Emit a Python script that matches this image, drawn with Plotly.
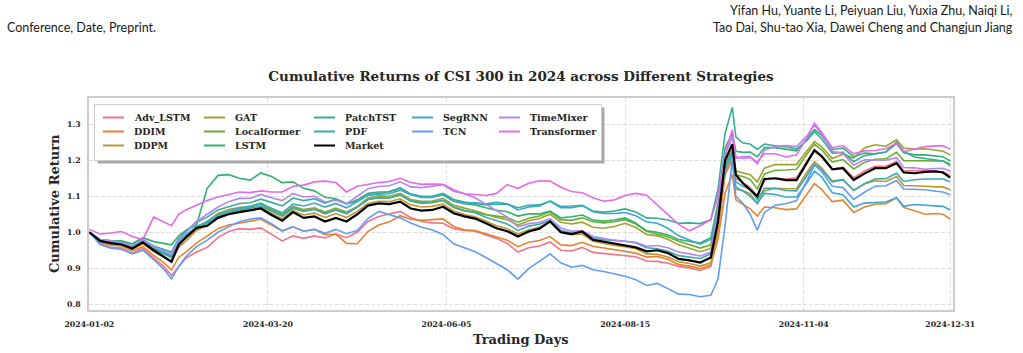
import plotly.graph_objects as go

# ---------------- data ----------------
trading_day_index = [0, 3, 6, 9, 12, 15, 18, 21, 23, 25, 27,
                     30, 33, 36, 39, 42, 45, 48, 51, 54, 57,
                     60, 63, 66, 69, 72, 75, 78, 81, 84, 87,
                     90, 93, 96, 99, 102, 105, 108, 111, 114, 117,
                     120, 123, 126, 129, 132, 135, 138, 141, 144, 147,
                     150, 153, 156, 159, 162, 165, 168, 171, 174,
                     176, 178, 180, 181, 183, 185, 187, 189,
                     192, 195, 198, 201, 203, 205, 208, 211, 214, 217,
                     220, 223, 226, 228, 231, 234, 237, 239, 241]

tick_positions = [0, 50, 100, 150, 200, 241]
tick_labels = ["2024-01-02", "2024-03-20", "2024-06-05", "2024-08-15", "2024-11-04", "2024-12-31"]
y_ticks = [0.8, 0.9, 1.0, 1.1, 1.2, 1.3]

adv_lstm = [1.000, 0.968, 0.958, 0.956, 0.942, 0.955, 0.929, 0.903, 0.880, 0.905, 0.928,
            0.945, 0.958, 0.985, 1.002, 1.010, 1.008, 1.012, 0.993, 0.976, 0.990,
            0.983, 0.990, 0.984, 0.995, 0.985, 1.000, 1.030, 1.044, 1.050, 1.058,
            1.041, 1.030, 1.026, 1.025, 1.010, 1.005, 1.003, 0.993, 0.983, 0.969,
            0.945, 0.957, 0.962, 0.973, 0.950, 0.948, 0.958, 0.944, 0.941, 0.937,
            0.935, 0.932, 0.920, 0.919, 0.914, 0.905, 0.901, 0.894, 0.905,
            1.000, 1.160, 1.200, 1.150, 1.138, 1.125, 1.100, 1.146,
            1.150, 1.148, 1.151, 1.198, 1.225, 1.209, 1.175, 1.181, 1.151, 1.170,
            1.183, 1.184, 1.196, 1.170, 1.171, 1.172, 1.169, 1.168, 1.158]

ddim = [1.000, 0.972, 0.964, 0.962, 0.948, 0.960, 0.936, 0.914, 0.895, 0.930, 0.945,
        0.970, 0.990, 1.010, 1.020, 1.025, 1.032, 1.036, 1.020, 1.003, 1.015,
        1.003, 1.008, 0.993, 0.995, 0.969, 0.968, 1.002, 1.020, 1.029, 1.046,
        1.036, 1.033, 1.034, 1.037, 1.016, 1.007, 1.005, 0.997, 0.987, 0.978,
        0.960, 0.972, 0.977, 0.988, 0.965, 0.963, 0.972, 0.961, 0.956, 0.951,
        0.945, 0.942, 0.931, 0.933, 0.925, 0.910, 0.906, 0.899, 0.910,
        0.980, 1.110, 1.160, 1.090, 1.078, 1.065, 1.045, 1.070,
        1.068, 1.063, 1.065, 1.108, 1.135, 1.119, 1.085, 1.089, 1.055, 1.070,
        1.078, 1.079, 1.096, 1.069, 1.059, 1.050, 1.052, 1.050, 1.037]

ddpm = [1.000, 0.974, 0.967, 0.964, 0.952, 0.968, 0.946, 0.930, 0.920, 0.958, 0.975,
        1.005, 1.019, 1.040, 1.052, 1.060, 1.062, 1.069, 1.052, 1.037, 1.060,
        1.048, 1.053, 1.041, 1.052, 1.041, 1.058, 1.080, 1.086, 1.085, 1.093,
        1.076, 1.070, 1.072, 1.078, 1.059, 1.049, 1.043, 1.031, 1.018, 1.010,
        0.995, 1.007, 1.014, 1.029, 1.000, 0.993, 0.995, 0.975, 0.968, 0.963,
        0.960, 0.954, 0.940, 0.939, 0.931, 0.918, 0.913, 0.906, 0.915,
        1.010, 1.165, 1.205, 1.120, 1.115, 1.107, 1.080, 1.115,
        1.122, 1.121, 1.121, 1.168, 1.196, 1.179, 1.142, 1.146, 1.116, 1.134,
        1.143, 1.141, 1.155, 1.130, 1.130, 1.128, 1.126, 1.126, 1.118]

gat = [1.000, 0.976, 0.971, 0.968, 0.956, 0.974, 0.953, 0.939, 0.930, 0.969, 0.988,
       1.015, 1.030, 1.052, 1.063, 1.069, 1.072, 1.081, 1.064, 1.050, 1.072,
       1.063, 1.068, 1.056, 1.067, 1.056, 1.072, 1.095, 1.101, 1.100, 1.108,
       1.091, 1.086, 1.087, 1.094, 1.075, 1.067, 1.060, 1.050, 1.041, 1.035,
       1.020, 1.032, 1.038, 1.050, 1.028, 1.023, 1.028, 1.014, 1.011, 1.016,
       1.025, 1.013, 0.994, 0.990, 0.980, 0.965, 0.956, 0.946, 0.955,
       1.060, 1.195, 1.230, 1.170, 1.165, 1.160, 1.140, 1.178,
       1.188, 1.188, 1.188, 1.227, 1.252, 1.238, 1.205, 1.217, 1.206, 1.234,
       1.243, 1.239, 1.257, 1.234, 1.231, 1.232, 1.227, 1.225, 1.215]

localformer = [1.000, 0.977, 0.973, 0.967, 0.958, 0.972, 0.955, 0.941, 0.932, 0.971, 0.990,
               1.016, 1.028, 1.049, 1.058, 1.066, 1.070, 1.078, 1.062, 1.047, 1.070,
               1.060, 1.064, 1.051, 1.062, 1.052, 1.070, 1.091, 1.096, 1.095, 1.103,
               1.086, 1.080, 1.082, 1.088, 1.069, 1.059, 1.056, 1.049, 1.045, 1.041,
               1.028, 1.039, 1.045, 1.057, 1.035, 1.033, 1.040, 1.029, 1.026, 1.029,
               1.035, 1.023, 1.003, 0.996, 0.987, 0.975, 0.966, 0.956, 0.965,
               1.060, 1.185, 1.220, 1.160, 1.155, 1.147, 1.120, 1.162,
               1.172, 1.173, 1.175, 1.218, 1.245, 1.229, 1.195, 1.202, 1.176, 1.194,
               1.203, 1.204, 1.222, 1.199, 1.199, 1.200, 1.199, 1.198, 1.190]

lstm = [1.000, 0.980, 0.977, 0.976, 0.968, 0.985, 0.974, 0.968, 0.965, 0.990, 1.005,
        1.020, 1.122, 1.158, 1.160, 1.150, 1.145, 1.165, 1.155, 1.138, 1.140,
        1.122, 1.115, 1.097, 1.093, 1.080, 1.085, 1.103, 1.108, 1.113, 1.123,
        1.106, 1.099, 1.099, 1.104, 1.086, 1.079, 1.076, 1.068, 1.061, 1.057,
        1.045, 1.051, 1.051, 1.059, 1.040, 1.043, 1.048, 1.034, 1.031, 1.034,
        1.040, 1.025, 1.004, 1.000, 0.992, 0.980, 0.976, 0.970, 0.985,
        1.080, 1.235, 1.275, 1.225, 1.222, 1.223, 1.210, 1.235,
        1.235, 1.231, 1.226, 1.261, 1.285, 1.269, 1.230, 1.234, 1.210, 1.220,
        1.218, 1.223, 1.246, 1.221, 1.215, 1.215, 1.213, 1.210, 1.198]

patchtst = [1.000, 0.979, 0.975, 0.973, 0.962, 0.980, 0.962, 0.952, 0.945, 0.983, 1.003,
            1.028, 1.042, 1.062, 1.072, 1.080, 1.082, 1.092, 1.083, 1.073, 1.095,
            1.088, 1.093, 1.081, 1.092, 1.078, 1.090, 1.108, 1.112, 1.112, 1.122,
            1.106, 1.099, 1.100, 1.108, 1.091, 1.084, 1.081, 1.076, 1.078, 1.078,
            1.068, 1.075, 1.076, 1.086, 1.068, 1.068, 1.074, 1.059, 1.056, 1.059,
            1.065, 1.056, 1.040, 1.039, 1.034, 1.025, 1.026, 1.024, 1.035,
            1.120, 1.275, 1.347, 1.265, 1.248, 1.245, 1.230, 1.245,
            1.240, 1.238, 1.231, 1.256, 1.280, 1.260, 1.220, 1.222, 1.196, 1.213,
            1.218, 1.223, 1.251, 1.225, 1.209, 1.205, 1.201, 1.198, 1.185]

pdf = [1.000, 0.974, 0.969, 0.968, 0.955, 0.973, 0.953, 0.939, 0.930, 0.968, 0.988,
       1.010, 1.025, 1.044, 1.054, 1.062, 1.067, 1.072, 1.059, 1.044, 1.066,
       1.058, 1.064, 1.053, 1.062, 1.052, 1.070, 1.091, 1.096, 1.095, 1.104,
       1.088, 1.083, 1.084, 1.089, 1.070, 1.061, 1.054, 1.042, 1.032, 1.023,
       1.005, 1.017, 1.022, 1.033, 1.005, 0.998, 1.000, 0.984, 0.979, 0.977,
       0.975, 0.970, 0.957, 0.954, 0.947, 0.935, 0.932, 0.927, 0.940,
       1.040, 1.185, 1.225, 1.140, 1.128, 1.120, 1.090, 1.122,
       1.122, 1.116, 1.115, 1.159, 1.190, 1.174, 1.140, 1.146, 1.116, 1.135,
       1.148, 1.149, 1.164, 1.141, 1.146, 1.148, 1.147, 1.148, 1.140]

segrnn = [1.000, 0.976, 0.971, 0.970, 0.958, 0.977, 0.958, 0.944, 0.935, 0.973, 0.993,
          1.015, 1.030, 1.048, 1.058, 1.067, 1.072, 1.080, 1.067, 1.054, 1.078,
          1.073, 1.081, 1.070, 1.080, 1.068, 1.085, 1.103, 1.106, 1.107, 1.117,
          1.104, 1.097, 1.097, 1.104, 1.087, 1.081, 1.082, 1.079, 1.083, 1.079,
          1.062, 1.070, 1.073, 1.087, 1.072, 1.073, 1.075, 1.057, 1.052, 1.052,
          1.055, 1.046, 1.029, 1.025, 1.011, 0.990, 0.978, 0.967, 0.980,
          1.050, 1.175, 1.215, 1.125, 1.115, 1.100, 1.080, 1.108,
          1.105, 1.098, 1.098, 1.139, 1.170, 1.154, 1.110, 1.104, 1.070, 1.081,
          1.083, 1.084, 1.096, 1.072, 1.077, 1.075, 1.073, 1.072, 1.062]

tcn = [1.000, 0.966, 0.956, 0.953, 0.940, 0.950, 0.924, 0.896, 0.870, 0.905, 0.932,
       0.960, 0.978, 1.000, 1.015, 1.029, 1.037, 1.040, 1.024, 1.004, 1.015,
       1.003, 1.008, 0.997, 1.008, 0.996, 1.005, 1.038, 1.058, 1.050, 1.040,
       1.026, 1.014, 1.006, 0.994, 0.968, 0.957, 0.946, 0.930, 0.912, 0.896,
       0.870, 0.899, 0.919, 0.940, 0.915, 0.903, 0.908, 0.896, 0.891, 0.885,
       0.878, 0.868, 0.852, 0.858, 0.844, 0.828, 0.827, 0.821, 0.825,
       0.870, 1.020, 1.200, 1.100, 1.080, 1.050, 1.006, 1.055,
       1.075, 1.079, 1.088, 1.145, 1.187, 1.169, 1.128, 1.124, 1.091, 1.111,
       1.128, 1.129, 1.144, 1.120, 1.120, 1.118, 1.114, 1.112, 1.104]

timemixer = [1.000, 0.980, 0.976, 0.973, 0.960, 0.978, 0.959, 0.948, 0.940, 0.978, 0.998,
             1.030, 1.050, 1.070, 1.085, 1.094, 1.094, 1.105, 1.096, 1.088, 1.108,
             1.098, 1.100, 1.084, 1.089, 1.079, 1.100, 1.121, 1.127, 1.129, 1.140,
             1.126, 1.124, 1.127, 1.132, 1.114, 1.107, 1.096, 1.079, 1.060, 1.042,
             1.015, 1.024, 1.027, 1.038, 1.012, 1.003, 1.004, 0.988, 0.982, 0.978,
             0.975, 0.972, 0.961, 0.963, 0.957, 0.945, 0.940, 0.934, 0.945,
             1.060, 1.215, 1.265, 1.205, 1.210, 1.210, 1.190, 1.228,
             1.238, 1.241, 1.238, 1.269, 1.298, 1.273, 1.225, 1.219, 1.186, 1.201,
             1.201, 1.200, 1.207, 1.180, 1.179, 1.175, 1.177, 1.178, 1.170]

transformer = [1.008, 0.995, 0.998, 1.002, 0.988, 0.980, 1.042, 1.028, 1.018, 1.050, 1.062,
               1.075, 1.088, 1.098, 1.105, 1.112, 1.110, 1.115, 1.112, 1.112, 1.128,
               1.131, 1.140, 1.142, 1.138, 1.112, 1.128, 1.134, 1.138, 1.141, 1.150,
               1.138, 1.133, 1.134, 1.133, 1.118, 1.107, 1.105, 1.102, 1.108, 1.132,
               1.122, 1.136, 1.143, 1.142, 1.125, 1.113, 1.110, 1.096, 1.086, 1.090,
               1.102, 1.108, 1.103, 1.076, 1.051, 1.022, 1.004, 1.018, 1.035,
               1.100, 1.215, 1.285, 1.210, 1.205, 1.208, 1.195, 1.218,
               1.218, 1.209, 1.215, 1.264, 1.303, 1.278, 1.235, 1.241, 1.218, 1.226,
               1.227, 1.232, 1.247, 1.224, 1.231, 1.238, 1.240, 1.240, 1.231]

market = [1.000, 0.976, 0.970, 0.966, 0.955, 0.972, 0.950, 0.932, 0.918, 0.965, 0.985,
          1.012, 1.018, 1.040, 1.050, 1.056, 1.060, 1.066, 1.048, 1.032, 1.056,
          1.040, 1.044, 1.030, 1.040, 1.030, 1.050, 1.074, 1.080, 1.078, 1.085,
          1.066, 1.060, 1.062, 1.071, 1.053, 1.044, 1.038, 1.025, 1.011, 1.003,
          0.988, 1.002, 1.010, 1.030, 1.000, 0.995, 1.002, 0.979, 0.974, 0.968,
          0.962, 0.958, 0.947, 0.950, 0.942, 0.926, 0.922, 0.916, 0.930,
          1.030, 1.200, 1.245, 1.160, 1.136, 1.118, 1.100, 1.148,
          1.150, 1.145, 1.145, 1.195, 1.228, 1.212, 1.175, 1.178, 1.145, 1.163,
          1.178, 1.178, 1.192, 1.166, 1.164, 1.168, 1.169, 1.166, 1.152]

model_names = ["Adv_LSTM", "DDIM", "DDPM", "GAT", "Localformer", "LSTM",
               "PatchTST", "PDF", "SegRNN", "TCN", "TimeMixer", "Transformer"]
model_series = [adv_lstm, ddim, ddpm, gat, localformer, lstm,
                patchtst, pdf, segrnn, tcn, timemixer, transformer]

# legend layout (matplotlib ncol=5, column-major)
legend_columns = [["Adv_LSTM", "DDIM", "DDPM"],
                  ["GAT", "Localformer", "LSTM"],
                  ["PatchTST", "PDF", "Market"],
                  ["SegRNN", "TCN"],
                  ["TimeMixer", "Transformer"]]

# ---------------- style ----------------
model_colors = ["#f77189", "#e3842f", "#c29532", "#a0a131", "#6ead31", "#32b16e",
                "#35ae97", "#37acb0", "#39a8cc", "#629df3", "#b486f4", "#e56ae6"]
market_color = "#000000"
SERIF = "DejaVu Serif"
TEXT = "#262626"

W, H = 1023, 353
L, R, T, B = 89, 70, 98, 43
PW, PH = W - L - R, H - T - B


def px(x):
    return (x - L) / PW


def py(y):
    return (H - B - y) / PH


fig = go.Figure()
for name, vals, col in zip(model_names, model_series, model_colors):
    fig.add_trace(go.Scatter(x=trading_day_index, y=vals, mode="lines", name=name,
                             line=dict(color=col, width=1.6), showlegend=False))
fig.add_trace(go.Scatter(x=trading_day_index, y=market, mode="lines", name="Market",
                         line=dict(color=market_color, width=2.2), showlegend=False))

# ---------------- manual legend ----------------
color_of = dict(zip(model_names, model_colors))
color_of["Market"] = market_color
col_line_x = [103, 204, 314, 412, 499]
row_y = [117.5, 131.5, 145.5]

shapes = [
    dict(type="rect", xref="paper", yref="paper",
         x0=px(97.5), x1=px(604.5), y0=py(163.5), y1=py(107.5),
         fillcolor="#a9a9a9", line=dict(width=0), layer="above"),
    dict(type="rect", xref="paper", yref="paper",
         x0=px(94.5), x1=px(601.5), y0=py(160.5), y1=py(104.5),
         fillcolor="white", line=dict(color="#cccccc", width=1), layer="above"),
]
annotations = []
for c, column in enumerate(legend_columns):
    for r, name in enumerate(column):
        x0 = col_line_x[c]
        yy = row_y[r]
        shapes.append(dict(type="line", xref="paper", yref="paper",
                           x0=px(x0), x1=px(x0 + 21), y0=py(yy), y1=py(yy),
                           line=dict(color=color_of[name], width=2), layer="above"))
        annotations.append(dict(text=name, xref="paper", yref="paper", x=px(x0 + 29), y=py(yy),
                                xanchor="left", yanchor="middle", showarrow=False,
                                font=dict(family=SERIF, size=9.5, color=TEXT, weight="bold")))

# axis titles
annotations.append(dict(text="Trading Days", xref="paper", yref="paper", x=0.5, y=py(339),
                        xanchor="center", yanchor="middle", showarrow=False,
                        font=dict(family=SERIF, size=13, color=TEXT, weight="bold")))
annotations.append(dict(text="Cumulative Return", xref="paper", yref="paper", x=px(54), y=0.5,
                        xanchor="center", yanchor="middle", showarrow=False, textangle=-90,
                        font=dict(family=SERIF, size=13, color=TEXT, weight="bold")))
# page header
HDR = dict(family="Lato", size=12.5, color="#1a1a1a")
annotations.append(dict(text="Conference, Date, Preprint.", xref="paper", yref="paper",
                        x=px(5), y=py(28), xanchor="left", yanchor="middle", showarrow=False, font=HDR))
annotations.append(dict(text="Yifan Hu, Yuante Li, Peiyuan Liu, Yuxia Zhu, Naiqi Li,", xref="paper",
                        yref="paper", x=px(1015), y=py(10), xanchor="right", yanchor="middle",
                        showarrow=False, font=HDR))
annotations.append(dict(text="Tao Dai, Shu-tao Xia, Dawei Cheng and Changjun Jiang", xref="paper",
                        yref="paper", x=px(1015), y=py(28), xanchor="right", yanchor="middle",
                        showarrow=False, font=HDR))

axis_common = dict(showgrid=True, gridcolor="#dedede", gridwidth=1, griddash="4px,2px",
                   showline=True, linecolor="#cccccc", linewidth=1.5, mirror=True,
                   ticks="", zeroline=False,
                   tickfont=dict(family=SERIF, size=7.8, color=TEXT, weight="bold"))

fig.update_layout(
    width=W, height=H, autosize=False,
    margin=dict(l=L, r=R, t=T, b=B),
    paper_bgcolor="white", plot_bgcolor="white",
    showlegend=False,
    title=dict(text="Cumulative Returns of CSI 300 in 2024 across Different Strategies",
               x=0.5, xref="paper", xanchor="center", y=1 - 76 / H, yref="container",
               yanchor="middle",
               font=dict(family=SERIF, size=13.5, color=TEXT, weight="bold")),
    xaxis=dict(range=[-0.1, 241.8], tickmode="array", tickvals=tick_positions,
               ticktext=tick_labels, ticklabelstandoff=6, **axis_common),
    yaxis=dict(range=[0.784, 1.373], tickmode="array", tickvals=y_ticks,
               tickformat=".1f", ticklabelstandoff=5, **axis_common),
    shapes=shapes, annotations=annotations,
)

fig.write_html("out.html")
